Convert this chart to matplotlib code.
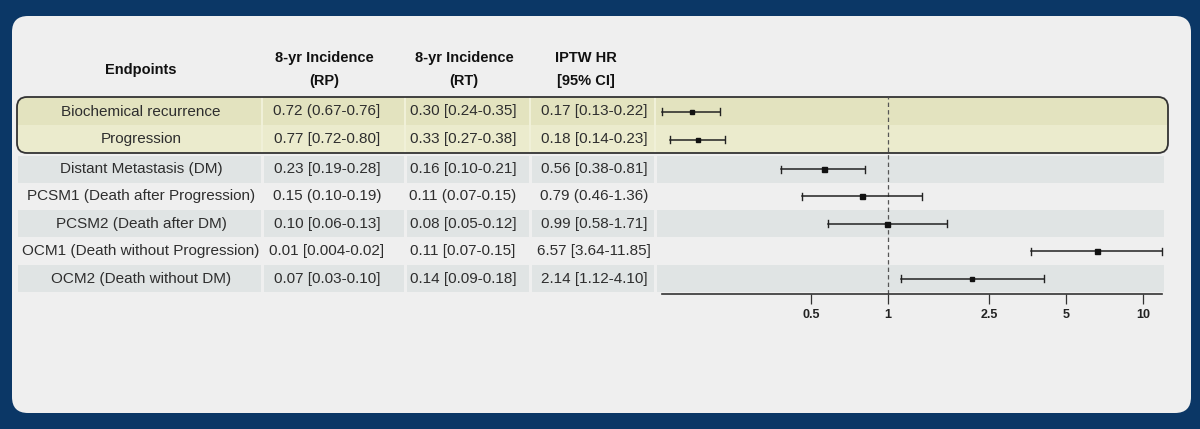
import numpy as np
import matplotlib as mpl
mpl.use('Agg')
import matplotlib.pyplot as plt
from matplotlib.patches import FancyBboxPatch, Rectangle

# table data
endpoints = ['Biochemical recurrence', 'Progression', 'Distant Metastasis (DM)',
             'PCSM1 (Death after Progression)', 'PCSM2 (Death after DM)',
             'OCM1 (Death without Progression)', 'OCM2 (Death without DM)']
inc_rp = ['0.72 (0.67-0.76]', '0.77 [0.72-0.80]', '0.23 [0.19-0.28]', '0.15 (0.10-0.19)',
          '0.10 [0.06-0.13]', '0.01 [0.004-0.02]', '0.07 [0.03-0.10]']
inc_rt = ['0.30 [0.24-0.35]', '0.33 [0.27-0.38]', '0.16 [0.10-0.21]', '0.11 (0.07-0.15)',
          '0.08 [0.05-0.12]', '0.11 [0.07-0.15]', '0.14 [0.09-0.18]']
hr_txt = ['0.17 [0.13-0.22]', '0.18 [0.14-0.23]', '0.56 [0.38-0.81]', '0.79 (0.46-1.36)',
          '0.99 [0.58-1.71]', '6.57 [3.64-11.85]', '2.14 [1.12-4.10]']
hr = [0.17, 0.18, 0.56, 0.79, 0.99, 6.57, 2.14]
hr_lo = [0.13, 0.14, 0.38, 0.46, 0.58, 3.64, 1.12]
hr_hi = [0.22, 0.23, 0.81, 1.36, 1.71, 11.85, 4.10]
xticks = [0.5, 1, 2.5, 5, 10]
xtick_labels = ['0.5', '1', '2.5', '5', '10']

navy = '#0b3766'
panel = '#efefef'
band = '#e0e4e4'
yel1 = '#e3e3bf'
yel2 = '#ebebcd'
txt = '#2e2e2e'

fig = plt.figure(figsize=(12, 4.29), dpi=100)
fig.patch.set_facecolor(navy)
bg = fig.add_axes([0, 0, 1, 1])
bg.set_xlim(0, 1200)
bg.set_ylim(429, 0)
bg.axis('off')

bg.add_patch(FancyBboxPatch((12, 16), 1179, 397, boxstyle='round,pad=0,rounding_size=16',
                            fc=panel, ec='none'))

# row layout (pixels)
row_y = [111.5, 139.5] + [169 + 27.4 * i for i in range(5)]
col_edges = [16, 262, 405, 530, 655, 1165]
col_cent = [141, 327, 463, 594]

# gray bands on alternate rows below the highlight
for i in [2, 4, 6]:
    for c in range(5):
        x0 = col_edges[c] + 1.5
        x1 = col_edges[c + 1] - 1.5
        bg.add_patch(Rectangle((x0, row_y[i] - 13.5), x1 - x0, 27, fc=band, ec='none'))

# highlighted box for first two rows
box_kw = dict(boxstyle='round,pad=0,rounding_size=10')
hl = FancyBboxPatch((17, 97), 1151, 56, fc=yel2, ec='none', **box_kw)
bg.add_patch(hl)
r1 = Rectangle((17, 97), 1151, 28, fc=yel1, ec='none')
bg.add_patch(r1)
r1.set_clip_path(hl)
for x in col_edges[1:5]:
    sep = Rectangle((x - 1, 97), 2, 56, fc='#f0f0d8', ec='none')
    bg.add_patch(sep)
    sep.set_clip_path(hl)
bg.add_patch(FancyBboxPatch((17, 97), 1151, 56, fc='none', ec='#333333', lw=1.3, **box_kw))

# headers
hfont = dict(fontsize=10.5, fontweight='bold', color='#111111', ha='center', va='center',
             family='Liberation Sans')
bg.text(col_cent[0], 70, 'Endpoints', **hfont)
bg.text(324, 58, '8-yr Incidence', **hfont)
bg.text(324, 81, '(RP)', **hfont)
bg.text(464, 58, '8-yr Incidence', **hfont)
bg.text(464, 81, '(RT)', **hfont)
bg.text(586, 58, 'IPTW HR', **hfont)
bg.text(586, 81, '[95% CI]', **hfont)

tfont = dict(fontsize=11, color=txt, ha='center', va='center', family='Liberation Sans')
for i in range(len(endpoints)):
    bg.text(col_cent[0], row_y[i], endpoints[i], **tfont)
    bg.text(col_cent[1], row_y[i], inc_rp[i], **tfont)
    bg.text(col_cent[2], row_y[i], inc_rt[i], **tfont)
    bg.text(col_cent[3], row_y[i], hr_txt[i], **tfont)

# forest plot axes
top, bottom = 97, 294
left, right = 658, 1168
ax = fig.add_axes([left / 1200, (429 - bottom) / 429, (right - left) / 1200, (bottom - top) / 429])
ax.patch.set_alpha(0)
ax.set_xscale('log')
ax.set_xlim(0.1253, 12.53)
ax.set_ylim(bottom, top)

ax.axvline(1, color='#555555', lw=0.9, ls=(0, (3.5, 2.5)))
msize = [2.6, 2.2, 3.6, 3.6, 3.6, 3.6, 3.0]
for i in range(len(hr)):
    ax.plot([hr_lo[i], hr_hi[i]], [row_y[i], row_y[i]], color='#222222', lw=1.1)
    ax.plot([hr_lo[i], hr_lo[i]], [row_y[i] - 3.5, row_y[i] + 3.5], color='#222222', lw=1)
    ax.plot([hr_hi[i], hr_hi[i]], [row_y[i] - 3.5, row_y[i] + 3.5], color='#222222', lw=1)
    ax.plot(hr[i], row_y[i], 's', color='#111111', ms=msize[i])

for s in ['top', 'right', 'left']:
    ax.spines[s].set_visible(False)
ax.spines['bottom'].set_bounds(min(hr_lo), max(hr_hi))
ax.spines['bottom'].set_color('#333333')
ax.spines['bottom'].set_linewidth(1.2)
ax.set_yticks([])
ax.set_xticks(xticks)
ax.set_xticklabels(xtick_labels, fontsize=9, fontweight='bold', family='Liberation Sans')
ax.xaxis.set_minor_locator(mpl.ticker.NullLocator())
ax.tick_params(axis='x', length=7, width=0.9, color='#333333', pad=4, labelcolor='#222222')

plt.savefig('out.png', dpi=100, facecolor=navy)
